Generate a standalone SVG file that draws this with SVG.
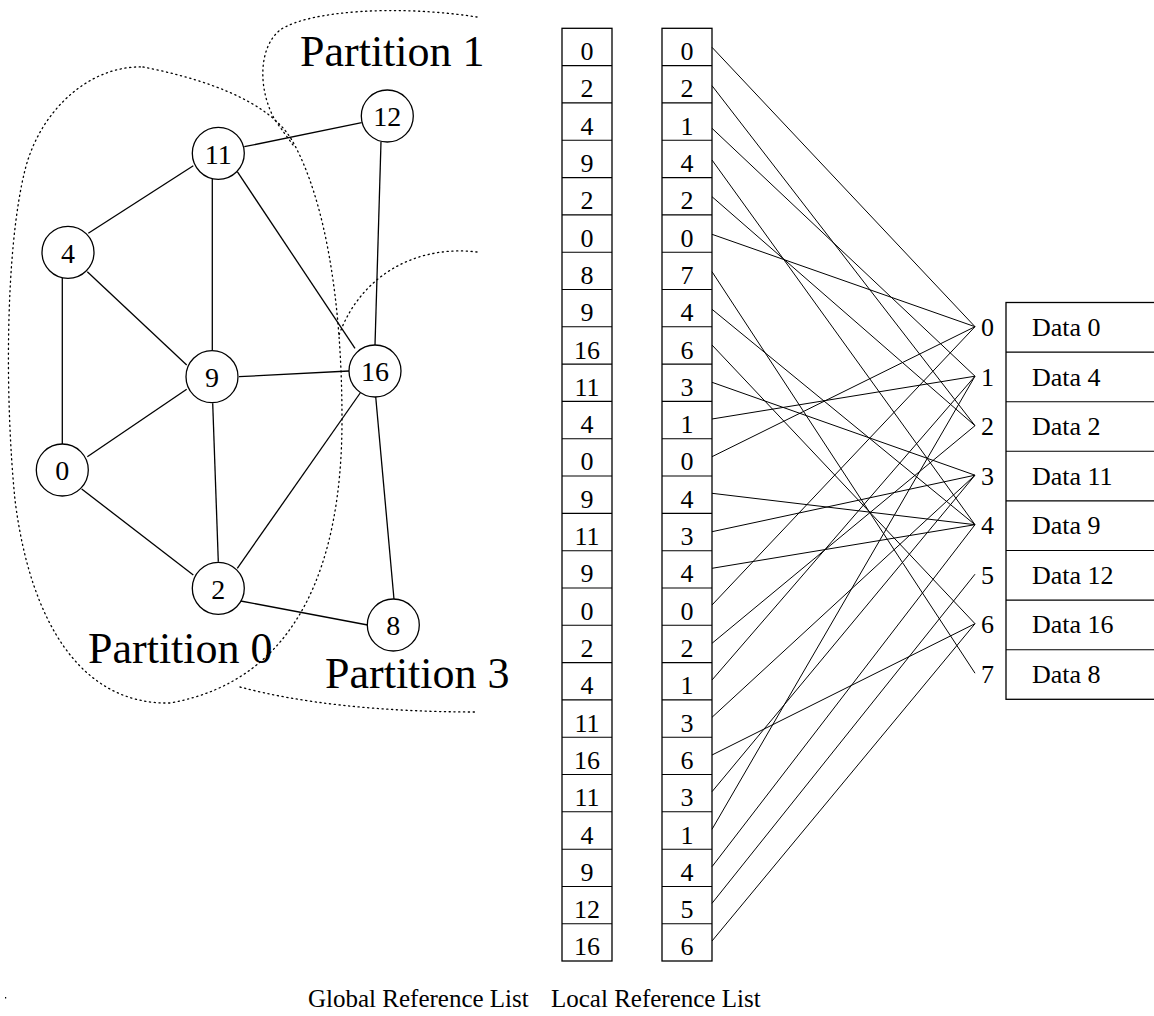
<svg xmlns="http://www.w3.org/2000/svg" width="1154" height="1016" viewBox="0 0 1154 1016" font-family="'Liberation Serif','Times New Roman',serif">
<style>
text{font-family:"Liberation Serif","Times New Roman",serif;fill:#000}
.node circle{fill:#fff;stroke:#000;stroke-width:1.3}
.node text{font-size:28px;text-anchor:middle}
.edge{stroke:#000;stroke-width:1.3;fill:none}
.part{stroke:#000;stroke-width:1.3;fill:none;stroke-dasharray:1.2 3.6;stroke-linecap:round}
.plabel{font-size:44px}
.box{fill:#fff;stroke:#000;stroke-width:1.3}
.sep{stroke:#000;stroke-width:1.1;fill:none}
.cell{font-size:26px;text-anchor:middle}
.conn line{stroke:#000;stroke-width:1}
.dat{font-size:26px}
.cap{font-size:25px}
</style>
<g id="partitions">
<path class="part" d="M143,67 C200,78 270,100 293,142 C325,200 342,300 342,420 C342,560 300,680 170,703 C80,705 30,620 15,500 C5,400 5,250 25,170 C40,110 90,65 143,67 Z"/>
<path class="part" d="M477,17 C400,5 310,10 280,30 C258,48 258,90 275,120 C282,130 288,138 293,145"/>
<path class="part" d="M477,252 C420,245 362,272 339,335"/>
<path class="part" d="M240,687 C300,703 380,712 477,712"/>
</g>
<text class="plabel" x="300" y="66">Partition 1</text>
<text class="plabel" x="88" y="663">Partition 0</text>
<text class="plabel" x="325" y="688">Partition 3</text>
<g id="graph-edges">
<line class="edge" x1="244.3" y1="146.7" x2="361.7" y2="122.7"/>
<line class="edge" x1="193.3" y1="165.7" x2="88.3" y2="233.3"/>
<line class="edge" x1="212.3" y1="179" x2="212.3" y2="350"/>
<line class="edge" x1="237.3" y1="171.7" x2="355" y2="348.3"/>
<line class="edge" x1="381" y1="141.7" x2="375" y2="345"/>
<line class="edge" x1="87.3" y1="271.7" x2="186.7" y2="365"/>
<line class="edge" x1="62.3" y1="278" x2="62.3" y2="444"/>
<line class="edge" x1="239" y1="376.7" x2="349" y2="371"/>
<line class="edge" x1="186.7" y1="389.3" x2="87.3" y2="456.7"/>
<line class="edge" x1="212.7" y1="403.3" x2="218.3" y2="561.7"/>
<line class="edge" x1="81.7" y1="489" x2="193.3" y2="575"/>
<line class="edge" x1="237.3" y1="568.3" x2="362.3" y2="390"/>
<line class="edge" x1="240.7" y1="601" x2="367.7" y2="625"/>
<line class="edge" x1="375.7" y1="396.7" x2="394" y2="599.3"/>
</g>
<g id="node-11" class="node"><circle cx="218.3" cy="153.3" r="26"/><text x="218.3" y="163.5">11</text></g>
<g id="node-12" class="node"><circle cx="387.3" cy="116" r="26"/><text x="387.3" y="126">12</text></g>
<g id="node-4" class="node"><circle cx="68" cy="252.3" r="26"/><text x="68" y="262.5">4</text></g>
<g id="node-9" class="node"><circle cx="212" cy="376.7" r="26"/><text x="212" y="386.5">9</text></g>
<g id="node-16" class="node"><circle cx="375" cy="371" r="26"/><text x="375" y="381">16</text></g>
<g id="node-0" class="node"><circle cx="62.3" cy="470" r="26"/><text x="62.3" y="480">0</text></g>
<g id="node-2" class="node"><circle cx="218.3" cy="588.3" r="26"/><text x="218.3" y="598.5">2</text></g>
<g id="node-8" class="node"><circle cx="393.3" cy="625" r="26"/><text x="393.3" y="635">8</text></g>
<g id="global-list">
<rect class="box" x="562" y="28.3" width="50" height="932.7"/>
<path class="sep" d="M562,65.6H612M562,102.9H612M562,140.2H612M562,177.6H612M562,214.9H612M562,252.2H612M562,289.5H612M562,326.8H612M562,364.1H612M562,401.4H612M562,438.7H612M562,476H612M562,513.4H612M562,550.7H612M562,588H612M562,625.3H612M562,662.6H612M562,699.9H612M562,737.2H612M562,774.5H612M562,811.8H612M562,849.2H612M562,886.5H612M562,923.8H612"/>
<text class="cell" x="587" y="60">0</text>
<text class="cell" x="587" y="97.3">2</text>
<text class="cell" x="587" y="134.6">4</text>
<text class="cell" x="587" y="171.9">9</text>
<text class="cell" x="587" y="209.2">2</text>
<text class="cell" x="587" y="246.5">0</text>
<text class="cell" x="587" y="283.8">8</text>
<text class="cell" x="587" y="321.2">9</text>
<text class="cell" x="587" y="358.5">16</text>
<text class="cell" x="587" y="395.8">11</text>
<text class="cell" x="587" y="433.1">4</text>
<text class="cell" x="587" y="470.4">0</text>
<text class="cell" x="587" y="507.7">9</text>
<text class="cell" x="587" y="545">11</text>
<text class="cell" x="587" y="582.3">9</text>
<text class="cell" x="587" y="619.6">0</text>
<text class="cell" x="587" y="657">2</text>
<text class="cell" x="587" y="694.3">4</text>
<text class="cell" x="587" y="731.6">11</text>
<text class="cell" x="587" y="768.9">16</text>
<text class="cell" x="587" y="806.2">11</text>
<text class="cell" x="587" y="843.5">4</text>
<text class="cell" x="587" y="880.8">9</text>
<text class="cell" x="587" y="918.1">12</text>
<text class="cell" x="587" y="955.4">16</text>
</g>
<g id="local-list">
<rect class="box" x="662" y="28.3" width="50" height="932.7"/>
<path class="sep" d="M662,65.6H712M662,102.9H712M662,140.2H712M662,177.6H712M662,214.9H712M662,252.2H712M662,289.5H712M662,326.8H712M662,364.1H712M662,401.4H712M662,438.7H712M662,476H712M662,513.4H712M662,550.7H712M662,588H712M662,625.3H712M662,662.6H712M662,699.9H712M662,737.2H712M662,774.5H712M662,811.8H712M662,849.2H712M662,886.5H712M662,923.8H712"/>
<text class="cell" x="687" y="60">0</text>
<text class="cell" x="687" y="97.3">2</text>
<text class="cell" x="687" y="134.6">1</text>
<text class="cell" x="687" y="171.9">4</text>
<text class="cell" x="687" y="209.2">2</text>
<text class="cell" x="687" y="246.5">0</text>
<text class="cell" x="687" y="283.8">7</text>
<text class="cell" x="687" y="321.2">4</text>
<text class="cell" x="687" y="358.5">6</text>
<text class="cell" x="687" y="395.8">3</text>
<text class="cell" x="687" y="433.1">1</text>
<text class="cell" x="687" y="470.4">0</text>
<text class="cell" x="687" y="507.7">4</text>
<text class="cell" x="687" y="545">3</text>
<text class="cell" x="687" y="582.3">4</text>
<text class="cell" x="687" y="619.6">0</text>
<text class="cell" x="687" y="657">2</text>
<text class="cell" x="687" y="694.3">1</text>
<text class="cell" x="687" y="731.6">3</text>
<text class="cell" x="687" y="768.9">6</text>
<text class="cell" x="687" y="806.2">3</text>
<text class="cell" x="687" y="843.5">1</text>
<text class="cell" x="687" y="880.8">4</text>
<text class="cell" x="687" y="918.1">5</text>
<text class="cell" x="687" y="955.4">6</text>
</g>
<g id="connectors" class="conn">
<line x1="712" y1="47.3" x2="975" y2="326.7"/>
<line x1="712" y1="85.7" x2="975" y2="425.7"/>
<line x1="712" y1="128.3" x2="975" y2="376.2"/>
<line x1="712" y1="160" x2="975" y2="524.7"/>
<line x1="712" y1="196.7" x2="975" y2="425.7"/>
<line x1="712" y1="234.3" x2="975" y2="326.7"/>
<line x1="712" y1="271.7" x2="975" y2="673.2"/>
<line x1="712" y1="309.3" x2="975" y2="524.7"/>
<line x1="712" y1="345" x2="975" y2="623.7"/>
<line x1="712" y1="382.3" x2="975" y2="475.2"/>
<line x1="712" y1="419" x2="975" y2="376.2"/>
<line x1="712" y1="456.7" x2="975" y2="326.7"/>
<line x1="712" y1="493.3" x2="975" y2="524.7"/>
<line x1="712" y1="531.7" x2="975" y2="475.2"/>
<line x1="712" y1="568.3" x2="975" y2="524.7"/>
<line x1="712" y1="605" x2="975" y2="326.7"/>
<line x1="712" y1="643.3" x2="975" y2="425.7"/>
<line x1="712" y1="680" x2="975" y2="376.2"/>
<line x1="712" y1="717.3" x2="975" y2="475.2"/>
<line x1="712" y1="755" x2="975" y2="623.7"/>
<line x1="712" y1="791.7" x2="975" y2="475.2"/>
<line x1="712" y1="829.3" x2="975" y2="376.2"/>
<line x1="712" y1="866.7" x2="975" y2="524.7"/>
<line x1="712" y1="903.3" x2="975" y2="574.2"/>
<line x1="712" y1="941" x2="975" y2="623.7"/>
</g>
<g id="index-labels">
<text class="dat" x="981" y="336">0</text>
<text class="dat" x="981" y="385.5">1</text>
<text class="dat" x="981" y="435">2</text>
<text class="dat" x="981" y="484.5">3</text>
<text class="dat" x="981" y="534">4</text>
<text class="dat" x="981" y="583.5">5</text>
<text class="dat" x="981" y="633">6</text>
<text class="dat" x="981" y="682.5">7</text>
</g>
<g id="data-table">
<rect class="box" x="1006" y="302.5" width="170" height="396.8"/>
<path class="sep" d="M1006,352.1H1176M1006,401.7H1176M1006,451.3H1176M1006,500.9H1176M1006,550.5H1176M1006,600.1H1176M1006,649.7H1176"/>
<text class="dat" x="1032" y="336">Data 0</text>
<text class="dat" x="1032" y="385.5">Data 4</text>
<text class="dat" x="1032" y="435">Data 2</text>
<text class="dat" x="1032" y="484.5">Data 11</text>
<text class="dat" x="1032" y="534">Data 9</text>
<text class="dat" x="1032" y="583.5">Data 12</text>
<text class="dat" x="1032" y="633">Data 16</text>
<text class="dat" x="1032" y="682.5">Data 8</text>
</g>
<text class="cap" x="308" y="1007">Global Reference List</text>
<text class="cap" x="551" y="1007">Local Reference List</text>
<rect x="5" y="997" width="1.2" height="1.5" fill="#000"/>
</svg>
